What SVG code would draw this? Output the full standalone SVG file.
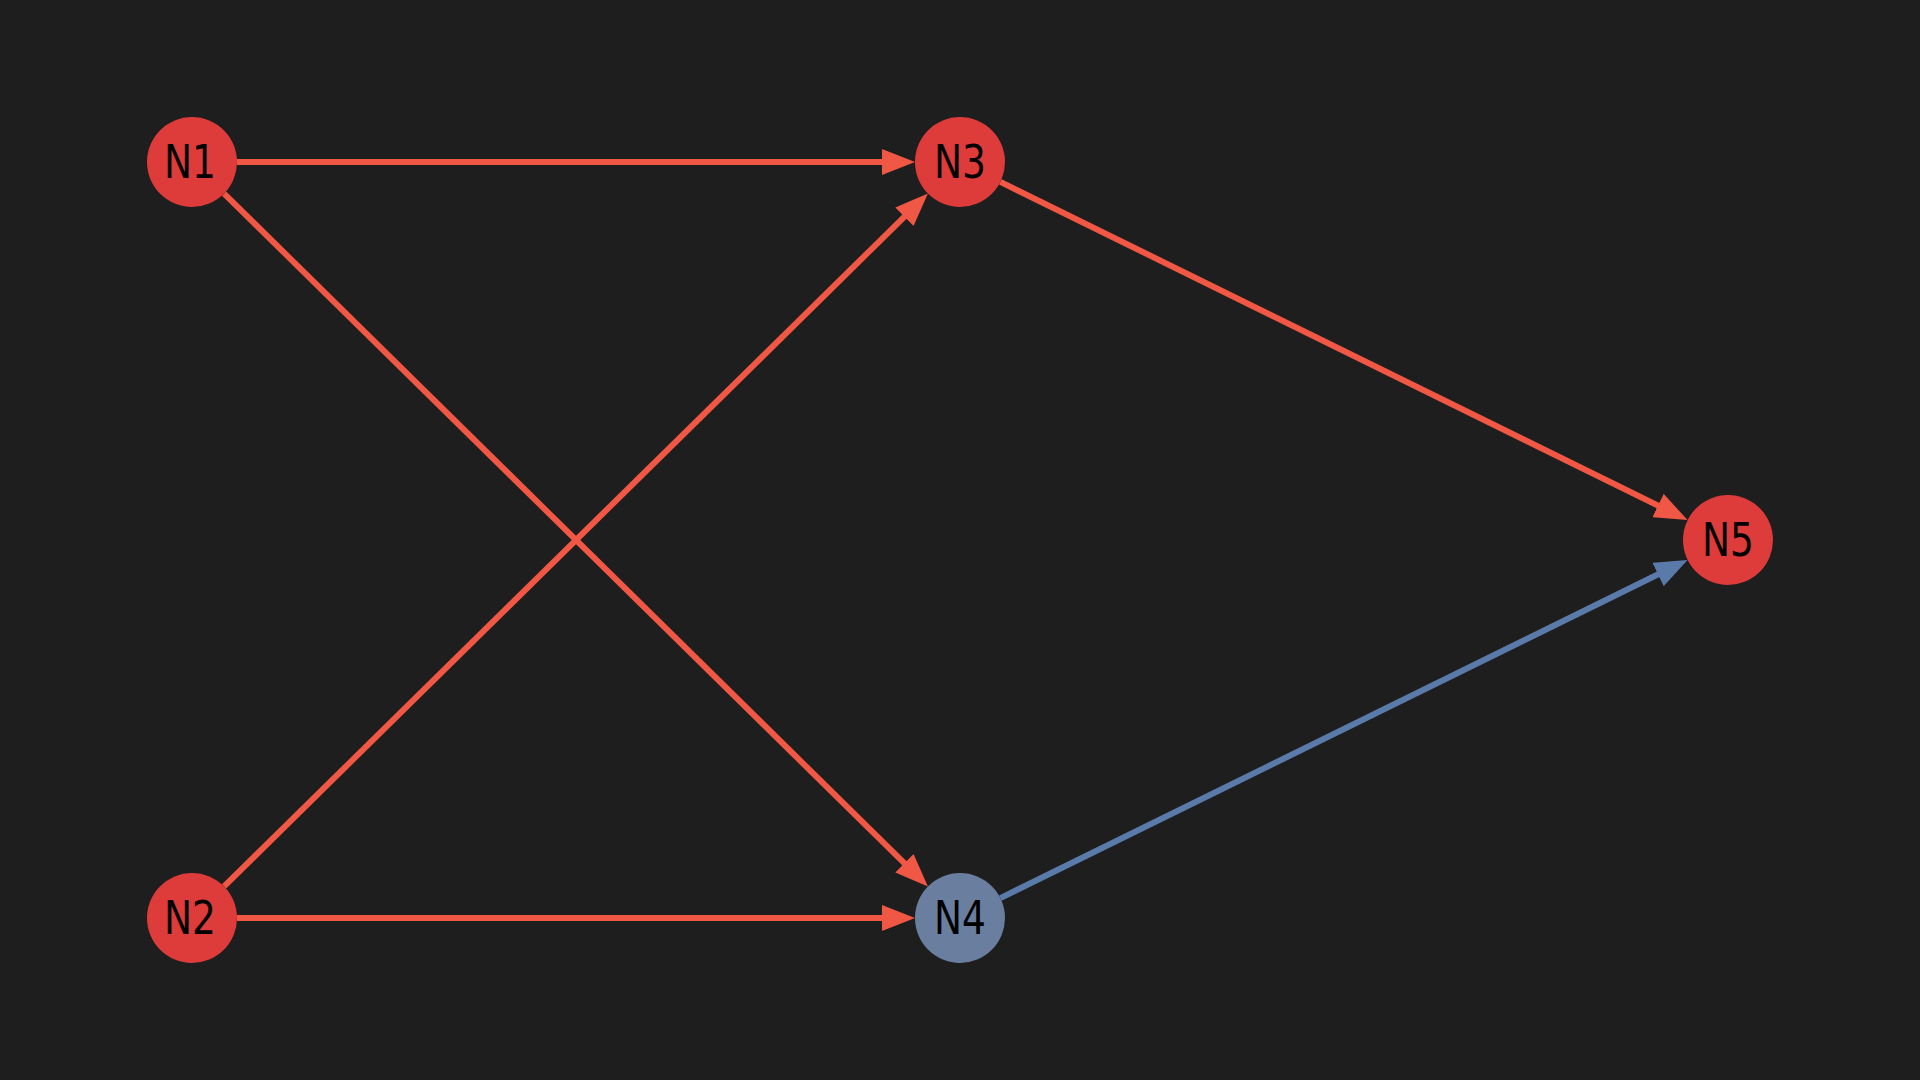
<svg xmlns="http://www.w3.org/2000/svg" width="1920" height="1080" viewBox="0 0 1920 1080">
<style>
.edge{fill:none;stroke-width:6}
.red{stroke:#f05744}
.blue{stroke:#5a7aaa}
.node-red{fill:#de3b3b}
.node-blue{fill:#6a7fa0}
.lbl{font-family:"DejaVu Sans","Noto Sans",sans-serif;font-size:46px;fill:#000;text-anchor:middle}
</style>
<defs>
<marker id="ar" markerUnits="userSpaceOnUse" markerWidth="33" markerHeight="26" refX="23" refY="13" orient="auto"><path d="M0,0 L33,13 L0,26 z" fill="#f05744"/></marker>
<marker id="ab" markerUnits="userSpaceOnUse" markerWidth="33" markerHeight="26" refX="23" refY="13" orient="auto"><path d="M0,0 L33,13 L0,26 z" fill="#5a7aaa"/></marker>
</defs>
<rect width="1920" height="1080" fill="#1e1e1e"/>
<g id="connectors">
<line class="edge red" x1="237" y1="162" x2="905" y2="162" marker-end="url(#ar)"/>
<line class="edge red" x1="224.1" y1="193.6" x2="920.8" y2="879.4" marker-end="url(#ar)"/>
<line class="edge red" x1="224.1" y1="886.4" x2="920.8" y2="200.6" marker-end="url(#ar)"/>
<line class="edge red" x1="237" y1="918" x2="905" y2="918" marker-end="url(#ar)"/>
<line class="edge red" x1="1000.4" y1="181.9" x2="1678.6" y2="515.7" marker-end="url(#ar)"/>
<line class="edge blue" x1="1000.4" y1="898.1" x2="1678.6" y2="564.3" marker-end="url(#ab)"/>
</g>
<g id="N1"><circle class="node-red" cx="192" cy="162" r="45"/><text class="lbl" x="190" y="178" textLength="52" lengthAdjust="spacingAndGlyphs">N1</text></g>
<g id="N2"><circle class="node-red" cx="192" cy="918" r="45"/><text class="lbl" x="190" y="934" textLength="52" lengthAdjust="spacingAndGlyphs">N2</text></g>
<g id="N3"><circle class="node-red" cx="960" cy="162" r="45"/><text class="lbl" x="960" y="178" textLength="52" lengthAdjust="spacingAndGlyphs">N3</text></g>
<g id="N4"><circle class="node-blue" cx="960" cy="918" r="45"/><text class="lbl" x="960" y="934" textLength="52" lengthAdjust="spacingAndGlyphs">N4</text></g>
<g id="N5"><circle class="node-red" cx="1728" cy="540" r="45"/><text class="lbl" x="1728" y="556" textLength="52" lengthAdjust="spacingAndGlyphs">N5</text></g>
</svg>
